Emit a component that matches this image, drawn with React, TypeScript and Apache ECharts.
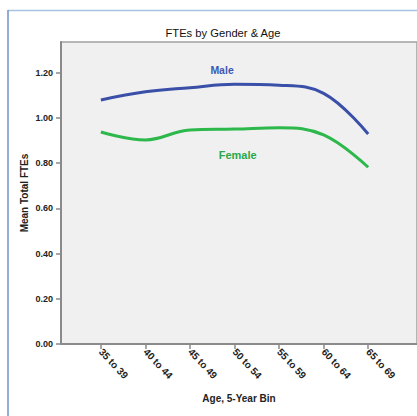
import React, { useEffect, useRef } from "react";
import * as echarts from "echarts";

const categories = ["35 to 39", "40 to 44", "45 to 49", "50 to 54", "55 to 59", "60 to 64", "65 to 69"];
const maleValues = [1.08, 1.116, 1.134, 1.149, 1.145, 1.109, 0.929];
const femaleValues = [0.938, 0.903, 0.947, 0.951, 0.957, 0.925, 0.782];
const yTicks = [0, 0.2, 0.4, 0.6, 0.8, 1.0, 1.2];
const xTicks = [0, 1, 2, 3, 4, 5, 6];

const FONT = "Liberation Sans, Arial, sans-serif";

export default function App() {
  const ref = useRef<HTMLDivElement>(null);
  useEffect(() => {
    if (!ref.current) return;
    const chart = echarts.init(ref.current, undefined, { renderer: "svg" });
    const male = maleValues.map((v, i) => [i, v]);
    const female = femaleValues.map((v, i) => [i, v]);
    chart.setOption({
      animation: false,
      backgroundColor: "#ffffff",
      title: {
        text: "FTEs by Gender & Age",
        left: 218,
        top: 22,
        textAlign: "center",
        textStyle: { fontFamily: FONT, fontSize: 11.2, fontWeight: "normal", color: "#111" },
      },
      grid: {
        left: 61,
        top: 42,
        bottom: 72,
        right: -10,
        show: true,
        backgroundColor: "#f0f0f0",
        borderColor: "#a0a0a0",
        borderWidth: 1.5,
      },
      xAxis: {
        type: "value",
        min: -0.895,
        max: (427 - 102) / 45.8,
        splitLine: { show: false },
        axisLine: { show: true, onZero: false, lineStyle: { color: "#8a8a8a", width: 2 } },
        axisTick: { show: true, length: 5, customValues: xTicks, lineStyle: { color: "#8a8a8a", width: 1.5 } },
        axisLabel: {
          customValues: xTicks,
          rotate: -47,
          margin: 6,
          formatter: (v: number) => categories[Math.round(v)] ?? "",
          fontFamily: FONT,
          fontSize: 10,
          fontWeight: "bold",
          color: "#222",
        },
      },
      yAxis: {
        type: "value",
        min: 0,
        max: 302 / 226,
        splitLine: { show: false },
        axisLine: { show: true, onZero: false, lineStyle: { color: "#8a8a8a", width: 2 } },
        axisTick: { show: true, length: 5, customValues: yTicks, lineStyle: { color: "#8a8a8a", width: 1.5 } },
        axisLabel: {
          customValues: yTicks,
          margin: 8,
          formatter: (v: number) => v.toFixed(2),
          fontFamily: FONT,
          fontSize: 9,
          fontWeight: "bold",
          color: "#222",
        },
      },
      series: [
        {
          name: "Male",
          type: "line",
          data: male,
          smooth: 0.4,
          symbol: "none",
          lineStyle: { color: "#3a50a8", width: 3 },
          markPoint: {
            symbol: "circle",
            symbolSize: 0,
            data: [{ coord: [2.72, 1.214], value: "Male" }],
            label: {
              show: true,
              formatter: "Male",
              fontFamily: FONT,
              fontSize: 10.5,
              fontWeight: "bold",
              color: "#4058b0",
            },
          },
        },
        {
          name: "Female",
          type: "line",
          data: female,
          smooth: 0.4,
          symbol: "none",
          lineStyle: { color: "#2db84b", width: 3 },
          markPoint: {
            symbol: "circle",
            symbolSize: 0,
            data: [{ coord: [3.07, 0.836], value: "Female" }],
            label: {
              show: true,
              formatter: "Female",
              fontFamily: FONT,
              fontSize: 11,
              fontWeight: "bold",
              color: "#2aa84a",
            },
          },
        },
      ],
      graphic: [
        { type: "line", shape: { x1: 8, y1: 10.5, x2: 417, y2: 10.5 }, style: { stroke: "#a9c1e2", lineWidth: 1.5 } },
        { type: "line", shape: { x1: 8, y1: 10, x2: 8, y2: 416 }, style: { stroke: "#6f93c8", lineWidth: 1.5 } },
        {
          type: "text",
          x: 24.5,
          y: 193,
          rotation: Math.PI / 2,
          style: {
            text: "Mean Total FTEs",
            font: `bold 10px ${FONT}`,
            fill: "#222",
            align: "center",
            verticalAlign: "middle",
          },
        },
        {
          type: "text",
          x: 239,
          y: 398,
          style: {
            text: "Age, 5-Year Bin",
            font: `bold 10px ${FONT}`,
            fill: "#222",
            align: "center",
            verticalAlign: "middle",
          },
        },
      ],
    });
    return () => chart.dispose();
  }, []);
  return <div ref={ref} style={{ position: "fixed", left: 0, top: 0, width: 417, height: 416 }} />;
}
